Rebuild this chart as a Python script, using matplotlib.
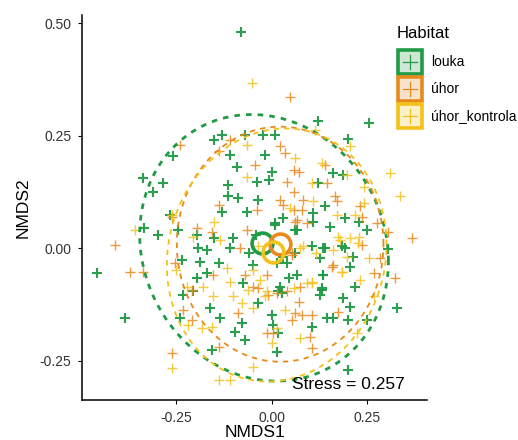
import numpy as np
import matplotlib
matplotlib.use("Agg")
import matplotlib.pyplot as plt
from matplotlib.patches import Rectangle

plt.rcParams["font.family"] = ["Liberation Sans", "DejaVu Sans"]

# NMDS site scores per habitat
louka_x = [-0.081, 0.122, 0.253, 0.200, -0.131, -0.070, -0.022, 0.009, -0.152, -0.257,
           -0.109, -0.017, -0.091, 0.000, -0.337, -0.283, -0.309, -0.113, -0.039, -0.006,
           0.122, 0.187, 0.161, -0.113, -0.087, -0.035, -0.065, -0.131, -0.266, 0.139,
           0.109, 0.030, 0.009, 0.191, 0.227, 0.065, 0.109, 0.152, 0.248, -0.333,
           -0.296, -0.245, -0.196, -0.152, -0.100, -0.192, -0.170, -0.109, 0.105, 0.139,
           0.183, 0.213, 0.305, 0.205, 0.126, -0.235, -0.187, -0.457, -0.139, -0.048,
           0.039, -0.196, -0.170, 0.065, 0.135, -0.074, 0.022, 0.044, 0.131, 0.126,
           0.218, -0.231, -0.205, 0.026, -0.161, -0.035, 0.187, 0.205, 0.327, -0.383,
           -0.240, -0.135, 0.000, 0.144, 0.161, 0.200, 0.248, -0.078, 0.004, 0.105,
           -0.096, 0.017, -0.070, -0.157, 0.013, 0.200, 0.030, -0.060, 0.060, -0.040,
           0.009, 0.061, 0.135, 0.192, 0.013, 0.135, 0.131, 0.017]
louka_y = [0.480, 0.283, 0.278, 0.242, 0.252, 0.252, 0.252, 0.252, 0.241, 0.204,
           0.207, 0.207, 0.181, 0.170, 0.156, 0.144, 0.126, 0.141, 0.148, 0.152,
           0.146, 0.163, 0.167, 0.115, 0.111, 0.107, 0.081, 0.081, 0.074, 0.093,
           0.078, 0.067, 0.056, 0.067, 0.059, 0.041, 0.059, 0.048, 0.041, 0.044,
           0.030, 0.041, 0.030, 0.022, 0.022, 0.000, -0.004, 0.000, 0.004, 0.000,
           0.004, -0.019, -0.002, -0.041, -0.022, -0.026, -0.030, -0.056, -0.033, -0.037,
           -0.033, -0.067, -0.056, -0.059, -0.059, -0.078, -0.085, -0.067, -0.093, -0.104,
           -0.085, -0.104, -0.096, -0.100, -0.133, -0.122, -0.111, -0.130, -0.133, -0.156,
           -0.156, -0.156, -0.148, -0.156, -0.156, -0.159, -0.159, -0.167, -0.170, -0.174,
           -0.185, -0.189, -0.204, -0.226, -0.230, -0.270, -0.020, -0.010, -0.010, 0.030,
           0.052, 0.041, 0.000, 0.000, -0.033, -0.059, -0.089, -0.096]

uhor_x = [0.048, -0.240, -0.109, 0.022, 0.035, -0.139, -0.044, 0.057, 0.070, 0.139,
          0.039, 0.057, 0.144, 0.165, 0.170, 0.022, 0.030, 0.057, 0.078, 0.083,
          0.231, -0.039, -0.139, 0.065, -0.261, 0.274, 0.305, 0.366, -0.196, -0.157,
          -0.065, -0.083, 0.235, -0.409, 0.052, -0.253, -0.370, -0.337, 0.283, 0.157,
          -0.153, -0.070, -0.013, 0.266, 0.322, -0.209, -0.048, 0.074, -0.009, 0.013,
          0.070, -0.231, -0.087, 0.061, 0.078, 0.105, 0.174, -0.209, 0.052, -0.013,
          0.100, 0.105, -0.261, -0.139, 0.004, 0.061, 0.091, 0.052, 0.039, -0.035,
          0.161, 0.235]
uhor_y = [0.335, 0.230, 0.241, 0.226, 0.211, 0.215, 0.185, 0.174, 0.170, 0.185,
          0.148, 0.126, 0.144, 0.115, 0.104, 0.107, 0.096, 0.085, 0.085, 0.107,
          0.093, 0.085, 0.096, 0.063, 0.070, 0.056, 0.037, 0.022, 0.044, 0.037,
          0.041, 0.000, 0.007, 0.007, -0.015, -0.033, -0.052, -0.052, -0.022, -0.041,
          -0.059, -0.059, -0.059, -0.056, -0.067, -0.093, -0.085, -0.085, -0.104, -0.100,
          -0.119, -0.137, -0.144, -0.144, -0.148, -0.148, -0.141, -0.159, -0.159, -0.189,
          -0.196, -0.222, -0.233, -0.219, -0.189, 0.058, 0.056, -0.011, -0.096, -0.089,
          -0.037, 0.070]

kontrola_x = [-0.052, 0.113, -0.065, 0.205, 0.061, 0.131, 0.309, 0.335, -0.065, 0.196,
              0.105, 0.240, 0.109, 0.240, -0.261, -0.152, 0.048, 0.170, -0.357, -0.205,
              -0.135, -0.035, 0.179, 0.205, 0.227, 0.074, 0.117, 0.161, 0.196, 0.253,
              -0.249, -0.118, -0.048, 0.183, 0.231, -0.109, -0.030, 0.105, -0.222, -0.179,
              -0.153, -0.100, -0.061, -0.013, 0.057, 0.091, -0.078, -0.048, 0.035, 0.266,
              -0.218, -0.183, -0.157, 0.013, 0.074, -0.261, -0.139, -0.109, -0.048, 0.222,
              0.000, 0.218, 0.174, 0.226, 0.105, 0.183, -0.017, 0.083]
kontrola_y = [0.367, 0.263, 0.230, 0.226, 0.200, 0.189, 0.167, 0.115, 0.159, 0.163,
              0.144, 0.137, 0.104, 0.100, 0.074, 0.059, 0.089, 0.074, 0.041, 0.026,
              0.019, 0.004, 0.019, 0.022, 0.026, 0.000, -0.011, -0.004, -0.019, -0.022,
              -0.048, -0.044, -0.048, -0.052, -0.070, -0.074, -0.070, -0.074, -0.085, -0.085,
              -0.107, -0.107, -0.093, -0.096, -0.089, -0.078, -0.122, -0.133, -0.137, -0.107,
              -0.170, -0.178, -0.174, -0.178, -0.200, -0.267, -0.293, -0.293, -0.263, -0.189,
              -0.211, 0.074, 0.026, 0.011, -0.078, -0.052, -0.107, 0.004]

habitats = ["louka", "úhor", "úhor_kontrola"]
colors = ["#1f9a45", "#e8891c", "#f3c21a"]
key_fills = ["#cfe6d4", "#f7e2cb", "#fbf0c8"]

# group centroids
cent_x = [-0.025, 0.022, 0.004]
cent_y = [0.011, 0.009, -0.009]

# 95% ellipses: centre, half extent in x and y, correlation
ell_cx = [-0.020, 0.022, 0.013]
ell_cy = [0.001, 0.009, -0.015]
ell_ax = [0.325, 0.270, 0.287]
ell_by = [0.296, 0.261, 0.281]
ell_r = [-0.10, 0.0, 0.08]

stress = 0.257

fig = plt.figure(figsize=(5.18, 4.40), dpi=100)
ax = fig.add_axes([82.3 / 518, 40 / 440, (426.7 - 82.3) / 518, 385 / 440])

groups = [(louka_x, louka_y), (uhor_x, uhor_y), (kontrola_x, kontrola_y)]
for i, (gx, gy) in enumerate(groups):
    ax.plot(gx, gy, "+", color=colors[i], ms=7.5,
            mew=1.5 if i == 0 else 1.0, alpha=0.95 if i == 0 else 0.85, zorder=2)

t = np.linspace(0, 2 * np.pi, 300)
for i in range(3):
    ex = ell_cx[i] + ell_ax[i] * np.cos(t)
    ey = ell_cy[i] + ell_by[i] * (ell_r[i] * np.cos(t) + np.sqrt(1 - ell_r[i] ** 2) * np.sin(t))
    if i == 0:
        ax.plot(ex, ey, color=colors[i], lw=2.0, dashes=(2.0, 2.2), zorder=3)
    else:
        ax.plot(ex, ey, color=colors[i], lw=1.3, dashes=(3.0, 2.8), zorder=3)

for i in range(3):
    ax.plot(cent_x[i], cent_y[i], "o", mfc="none", mec=colors[i], ms=15, mew=2.6, zorder=4)

ax.text(0.052, -0.302, f"Stress = {stress}", fontsize=12.5, ha="left", va="center", zorder=5)

ax.set_xlim(-0.495, 0.405)
ax.set_ylim(-0.337, 0.518)
ax.set_xticks([-0.25, 0.0, 0.25])
ax.set_yticks([-0.25, 0.0, 0.25, 0.50])
ax.set_xticklabels(["-0.25", "0.00", "0.25"])
ax.set_yticklabels(["-0.25", "0.00", "0.25", "0.50"])
ax.tick_params(labelsize=10, labelcolor="#333333", length=3, width=0.8, pad=5)
for s in ["top", "right"]:
    ax.spines[s].set_visible(False)
for s in ["left", "bottom"]:
    ax.spines[s].set_linewidth(1.1)
ax.set_xlabel("NMDS1", fontsize=12.5, labelpad=0)
ax.set_ylabel("NMDS2", fontsize=12.5, labelpad=6)

# legend drawn in figure pixels
def fx(px):
    return px / 518

def fy(py):
    return 1 - py / 440

fig.text(fx(397), fy(34), "Habitat", fontsize=12, ha="left", va="center")
for i, lab in enumerate(habitats):
    top = 50 + i * 27
    fig.add_artist(Rectangle((fx(398), fy(top + 24)), 24 / 518, 24 / 440,
                             transform=fig.transFigure, facecolor=key_fills[i],
                             edgecolor=colors[i], lw=2.6))
    fig.add_artist(plt.Line2D([fx(403), fx(417)], [fy(top + 12), fy(top + 12)],
                              transform=fig.transFigure, color=colors[i], lw=0.9))
    fig.add_artist(plt.Line2D([fx(410), fx(410)], [fy(top + 5), fy(top + 19)],
                              transform=fig.transFigure, color=colors[i], lw=0.9))
    fig.text(fx(431), fy(top + 12), lab, fontsize=10, ha="left", va="center")

fig.savefig("out.png", dpi=100)
